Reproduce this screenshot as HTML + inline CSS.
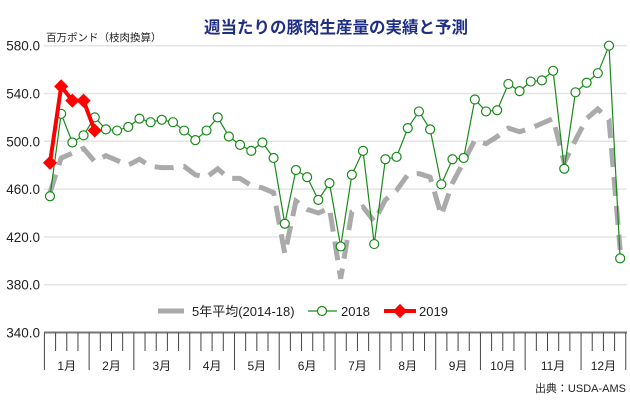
<!DOCTYPE html>
<html><head><meta charset="utf-8"><style>
html,body{margin:0;padding:0;background:#fff;width:630px;height:414px;overflow:hidden}
svg{display:block;font-family:"Liberation Sans","Noto Sans CJK JP",sans-serif}
</style></head><body>
<svg id="chart" width="630" height="414" viewBox="0 0 630 414">
<text x="336" y="33" text-anchor="middle" font-size="16.5" font-weight="bold" fill="#1f2f86" font-family="'Liberation Sans','Noto Sans CJK JP',sans-serif">週当たりの豚肉生産量の実績と予測</text>
<text x="46" y="41" font-size="10.5" fill="#222">百万ポンド（枝肉換算）</text>
<g id="grid"></g><g id="ticks"></g><g id="series"></g>
<g>
<line x1="158" y1="311" x2="184" y2="311" stroke="#aaa" stroke-width="5"/>
<text x="192" y="316" font-size="13" fill="#222">5年平均(2014-18)</text>
<line x1="308" y1="311" x2="337" y2="311" stroke="#1a8a1a" stroke-width="1.2"/>
<circle cx="322" cy="311" r="4.5" fill="#fff" stroke="#1a8a1a" stroke-width="1.2"/>
<text x="341" y="316" font-size="13" fill="#222">2018</text>
<line x1="384" y1="311" x2="416" y2="311" stroke="#f00" stroke-width="4"/>
<rect x="395" y="306" width="10" height="10" fill="#f00" transform="rotate(45 400 311)"/>
<text x="419" y="316" font-size="13" fill="#222">2019</text>
</g>
<text x="626" y="392" text-anchor="end" font-size="11" fill="#222">出典：USDA-AMS</text>
</svg>
<script>
const yTicks=[580,540,500,460,420,380,340];
const months=["1月","2月","3月","4月","5月","6月","7月","8月","9月","10月","11月","12月"];
const monthStartWeek=[0,4,8,13,17,21,26,30,35,39,43,48,52];
const avg5=[457,486,490,494,483,488,484,480,485,479,478,478,479,472,470,477,469,469,463,461,457,406,450,443,440,444,385,441,445,433,451,459,472,473,470,438,465,483,501,498,504,511,508,511,515,519,482,501,519,527,518,409];
const s2018=[454,523,499,505,520,510,509,512,519,516,518,516,509,501,509,520,504,497,492,499,486,431,476,470,451,465,412,472,492,414,485,487,511,525,510,464,485,486,535,525,526,548,542,550,551,559,477,541,549,557,580,402];
const s2019=[482,546,534,534,509];
const NS="http://www.w3.org/2000/svg";
const X0=50,DX=11.18,Y580=45.7,PPU=47.8/40;
const xw=i=>X0+i*DX;
const yv=v=>Y580+(580-v)*PPU;
const svg=document.getElementById('chart');
function mk(tag,attrs,parent){const e=document.createElementNS(NS,tag);for(const k in attrs)e.setAttribute(k,attrs[k]);parent.appendChild(e);return e;}
const grid=document.getElementById('grid');
yTicks.forEach(v=>{
  if(v>340){const l=mk('line',{x1:44,x2:627,y1:yv(v),y2:yv(v),stroke:'#e4e4e4','stroke-width':1.5},grid);
  
  }
  const t=mk('text',{x:40,y:yv(v)+5,'text-anchor':'end','font-size':13.5,fill:'#222'},grid);
  
  
  t.textContent=v.toFixed(1);
});
const tk=document.getElementById('ticks');
const ax=mk('line',{x1:44,x2:627,y1:yv(340),y2:yv(340),stroke:'#777','stroke-width':2},tk);


for(let k=0;k<=52;k++){
  const x=X0-DX/2+k*DX;const major=monthStartWeek.includes(k);
  const l=mk('line',{x1:x,x2:x,y1:yv(340),y2:major?370:351,stroke:'#444','stroke-width':1},tk);
  
  
}
months.forEach((m,i)=>{
  const x=X0-DX/2+(monthStartWeek[i]+monthStartWeek[i+1])/2*DX;
  const t=mk('text',{x:x,y:370,'text-anchor':'middle','font-size':12,fill:'#222'},tk);
  
  
  t.textContent=m;
});
const sg=document.getElementById('series');
const pts=a=>a.map((v,i)=>xw(i)+','+yv(v)).join(' ');
const pa=mk('polyline',{points:pts(avg5),fill:'none',stroke:'#aaa','stroke-width':5,'stroke-dasharray':'19 10'},sg);


const p18=mk('polyline',{points:pts(s2018),fill:'none',stroke:'#1a8a1a','stroke-width':1.2},sg);


s2018.forEach((v,i)=>{const c=mk('circle',{cx:xw(i),cy:yv(v),r:4.5,fill:'#fff',stroke:'#1a8a1a','stroke-width':1.2},sg);

});
const p19=mk('polyline',{points:pts(s2019),fill:'none',stroke:'#f00','stroke-width':4},sg);


s2019.forEach((v,i)=>{const r=mk('rect',{x:xw(i)-5,y:yv(v)-5,width:10,height:10,fill:'#f00',transform:`rotate(45 ${xw(i)} ${yv(v)})`},sg);

});
</script>
</body></html>
